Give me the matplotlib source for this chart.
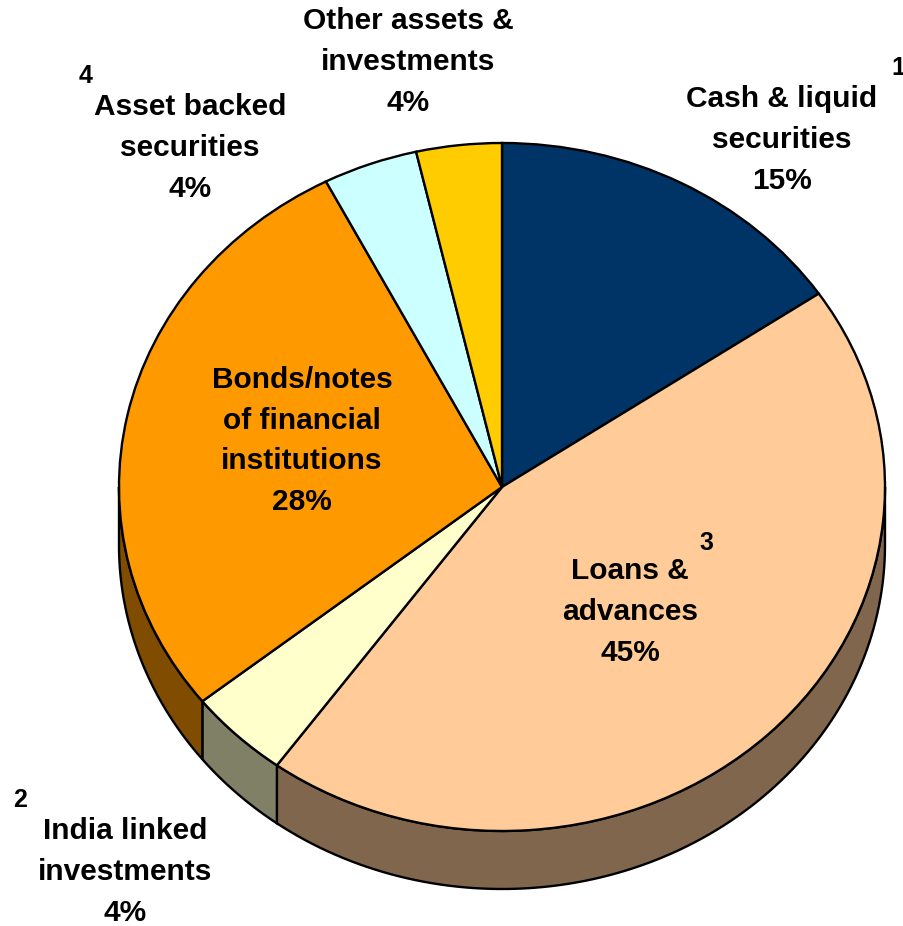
import numpy as np
import matplotlib.pyplot as plt
from matplotlib.patches import Polygon
from matplotlib.colors import to_rgb

# asset mix, clockwise from 12 o'clock
labels = ["Cash & liquid\nsecurities\n15%", "Loans &\nadvances\n45%",
          "India linked\ninvestments\n4%", "Bonds/notes\nof financial\ninstitutions\n28%",
          "Asset backed\nsecurities\n4%", "Other assets &\ninvestments\n4%"]
shares = [15.5, 44.5, 4.3, 28.1, 4.0, 3.6]
colors = ["#003366", "#FFCC99", "#FFFFCC", "#FF9900", "#CCFFFF", "#FFCC00"]
notes = ["1", "3", "2", "", "4", ""]

# layout (pixels in the 904x926 picture)
cx, cy, rx, ry = 502, 487, 383, 344
depth = 58 / ry
label_px = [(782, 140), (630, 612), (125, 872), (302, 441), (190, 148), (408, 62)]
note_px = [(898, 68), (706, 543), (20, 800), None, (86, 76), None]


def px(x, y):
    return (x - cx) / rx, (cy - y) / ry


plt.rcParams['font.family'] = ['Liberation Sans', 'DejaVu Sans']
fig = plt.figure(figsize=(9.04, 9.26), dpi=100)
ax = fig.add_axes([0, 0, 1, 1])

wedges, _ = ax.pie(shares, colors=colors, startangle=90, counterclock=False,
                   wedgeprops=dict(edgecolor="black", linewidth=1.7, zorder=3))

# extruded side of the pie (only lower half is visible)
for w, c in zip(wedges, colors):
    side = tuple(v * 0.5 for v in to_rgb(c))
    for lo, hi in [(-180, 0), (180, 360)]:
        a, b = max(w.theta1, lo), min(w.theta2, hi)
        if b <= a:
            continue
        t = np.radians(np.linspace(a, b, 100))
        top = np.column_stack([np.cos(t), np.sin(t)])
        bot = np.column_stack([np.cos(t[::-1]), np.sin(t[::-1]) - depth])
        ax.add_patch(Polygon(np.vstack([top, bot]), closed=True, facecolor=side,
                             edgecolor="black", linewidth=1.7, zorder=1))

for lab, p in zip(labels, label_px):
    ax.text(*px(*p), lab, ha="center", va="center", fontsize=21.5,
            fontweight="bold", linespacing=1.58, zorder=5)
for n, p in zip(notes, note_px):
    if p:
        ax.text(*px(*p), n, ha="center", va="center", fontsize=18,
                fontweight="bold", zorder=5)

ax.set_aspect("auto")
ax.set_xlim(-cx / rx, (904 - cx) / rx)
ax.set_ylim(-(926 - cy) / ry, cy / ry)
ax.axis("off")

fig.savefig("out.png", dpi=100)
